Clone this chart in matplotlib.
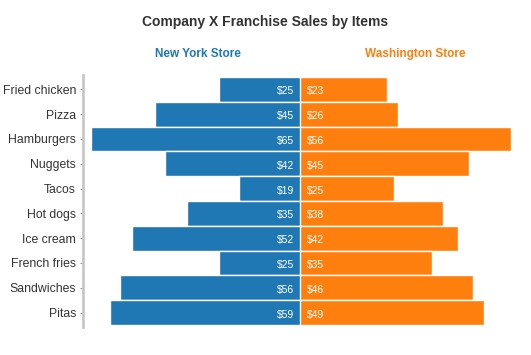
import matplotlib.pyplot as plt

plt.rcParams["font.family"] = ["Liberation Sans", "DejaVu Sans"]

items = ["Fried chicken", "Pizza", "Hamburgers", "Nuggets", "Tacos",
         "Hot dogs", "Ice cream", "French fries", "Sandwiches", "Pitas"]
new_york = [25, 45, 65, 42, 19, 35, 52, 25, 56, 59]
washington = [23, 26, 56, 45, 25, 38, 42, 35, 46, 49]

blue = "#1f77b4"
orange = "#ff7f0e"

fig = plt.figure(figsize=(5.31, 3.55), dpi=100)
ax_l = fig.add_axes([0.156, 0.079, 0.409, 0.71])
ax_r = fig.add_axes([0.565, 0.079, 0.405, 0.71])

pos = list(range(len(items)))
ax_l.barh(pos, new_york, height=1.0, color=blue, edgecolor="white", linewidth=1)
ax_r.barh(pos, washington, height=1.0, color=orange, edgecolor="white", linewidth=1)

ax_l.set_xlim(max(new_york) * 1.037, 0)
ax_r.set_xlim(0, max(washington) * 1.02)
for ax in (ax_l, ax_r):
    ax.set_ylim(len(items) - 0.42, -0.58)
    ax.set_xticks([])
    for s in ax.spines.values():
        s.set_visible(False)

ax_l.spines["left"].set_visible(True)
ax_l.spines["left"].set_color("#c8c8c8")
ax_l.spines["left"].set_linewidth(2)
ax_l.set_yticks(pos)
ax_l.set_yticklabels(items, fontsize=8.8, color="#333333")
ax_l.tick_params(axis="y", length=2, color="#999999", pad=3)
ax_r.set_yticks([])

for i, v in enumerate(new_york):
    ax_l.text(1.9, i + 0.08, f"${v}", color="white", fontsize=7.5, ha="right", va="center")
for i, v in enumerate(washington):
    ax_r.text(1.8, i + 0.08, f"${v}", color="white", fontsize=7.5, ha="left", va="center")

fig.text(0.5, 0.937, "Company X Franchise Sales by Items", ha="center", va="center",
         fontsize=10, fontweight="bold", color="#333333")
fig.text(0.373, 0.848, "New York Store", ha="center", va="center",
         fontsize=8.5, fontweight="bold", color=blue)
fig.text(0.782, 0.848, "Washington Store", ha="center", va="center",
         fontsize=8.5, fontweight="bold", color=orange)

fig.savefig("out.png", dpi=100)
